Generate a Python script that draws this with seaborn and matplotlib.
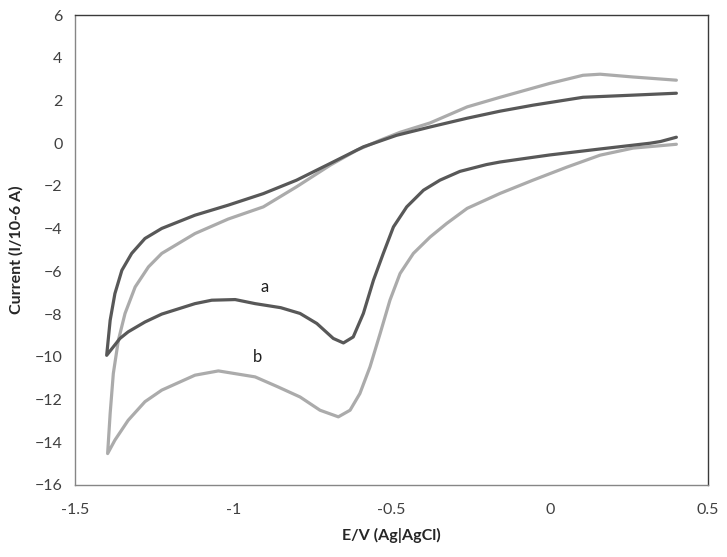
import matplotlib
matplotlib.use("Agg")
import matplotlib.pyplot as plt
import seaborn as sns
import pandas as pd

# Curve a: cathodic sweep 0.4 -> -1.4, then anodic sweep back to 0.4
a_x = [0.40, 0.35, 0.317, 0.159, 0.0, -0.053, -0.157, -0.20, -0.284, -0.347, -0.399, -0.452,
       -0.494, -0.526, -0.557, -0.589, -0.621, -0.652, -0.684, -0.736, -0.789, -0.85, -0.931,
       -0.994, -1.068, -1.121, -1.226, -1.279, -1.332, -1.358, -1.400,
       -1.389, -1.374, -1.352, -1.321, -1.279, -1.226, -1.121, -1.016, -0.905, -0.800, -0.694,
       -0.589, -0.484, -0.378, -0.261, -0.157, -0.053, 0.105, 0.263, 0.40]
a_y = [0.28, 0.08, 0.0, -0.27, -0.55, -0.66, -0.88, -1.0, -1.32, -1.73, -2.2, -2.98,
       -3.92, -5.16, -6.41, -7.97, -9.07, -9.35, -9.14, -8.44, -7.97, -7.7, -7.51,
       -7.32, -7.35, -7.51, -8.0, -8.37, -8.83, -9.14, -9.93,
       -8.29, -7.04, -5.95, -5.16, -4.46, -3.99, -3.37, -2.90, -2.36, -1.73, -0.95,
       -0.17, 0.37, 0.76, 1.17, 1.5, 1.78, 2.15, 2.25, 2.34]

# Curve b
b_x = [0.40, 0.263, 0.159, 0.054, -0.053, -0.157, -0.261, -0.326, -0.378, -0.431, -0.473,
       -0.505, -0.536, -0.568, -0.600, -0.631, -0.668, -0.726, -0.789, -0.86, -0.931, -1.047,
       -1.121, -1.226, -1.279, -1.332, -1.374, -1.397,
       -1.389, -1.379, -1.363, -1.342, -1.310, -1.268, -1.226, -1.121, -1.016, -0.905, -0.800,
       -0.694, -0.610, -0.536, -0.473, -0.378, -0.261, -0.157, 0.0, 0.105, 0.159, 0.263, 0.40]
b_y = [-0.05, -0.23, -0.56, -1.12, -1.73, -2.35, -3.05, -3.76, -4.39, -5.16, -6.1,
       -7.35, -8.91, -10.47, -11.72, -12.5, -12.81, -12.5, -11.88, -11.4, -10.94, -10.66,
       -10.86, -11.56, -12.1, -12.97, -13.9, -14.53,
       -12.65, -10.78, -9.22, -7.97, -6.73, -5.79, -5.16, -4.23, -3.55, -2.98, -2.04,
       -1.03, -0.33, 0.14, 0.51, 0.95, 1.7, 2.15, 2.8, 3.18, 3.23, 3.1, 2.95]

x_ticks = [-1.5, -1, -0.5, 0, 0.5]
x_tick_labels = ["-1.5", "-1", "-0.5", "0", "0.5"]
y_ticks = [-16, -14, -12, -10, -8, -6, -4, -2, 0, 2, 4, 6]

sns.set_theme(style="white")
plt.rcParams['font.family'] = ['Lato', 'DejaVu Sans']

fig = plt.figure(figsize=(7.27, 5.57), dpi=100)
ax = fig.add_axes([0.1032, 0.1293, 0.8707, 0.8437])

df_a = pd.DataFrame({"E": a_x, "I": a_y})
df_b = pd.DataFrame({"E": b_x, "I": b_y})
sns.lineplot(data=df_b, x="E", y="I", sort=False, estimator=None, ax=ax,
             color="#ababab", linewidth=2.3, solid_joinstyle="round", solid_capstyle="round")
sns.lineplot(data=df_a, x="E", y="I", sort=False, estimator=None, ax=ax,
             color="#585858", linewidth=2.3, solid_joinstyle="round", solid_capstyle="round")

ax.set_xlim(-1.5, 0.5)
ax.set_ylim(-16, 6)
ax.set_xticks(x_ticks)
ax.set_xticklabels(x_tick_labels)
ax.set_yticks(y_ticks)
ax.tick_params(axis="both", which="both", direction="out", length=5, width=1,
               color="#868686", labelsize=11.5, labelcolor="#404040", pad=4)
ax.tick_params(axis="x", pad=8)
for side in ["left", "bottom"]:
    ax.spines[side].set_color("#868686")
    ax.spines[side].set_linewidth(1)
for side in ["top", "right"]:
    ax.spines[side].set_color("#3a3a3a")
    ax.spines[side].set_linewidth(1)

ax.set_xlabel("E/V (Ag|AgCl)", fontsize=11.5, fontweight="bold", color="#262626", labelpad=8)
ax.set_ylabel("Current (I/10-6 A)", fontsize=11.5, fontweight="bold", color="#262626", labelpad=8)

ax.text(-0.9, -6.74, "a", fontsize=12, ha="center", va="center", color="#202020")
ax.text(-0.922, -10.0, "b", fontsize=12, ha="center", va="center", color="#202020")

fig.savefig("out.png", dpi=100)
